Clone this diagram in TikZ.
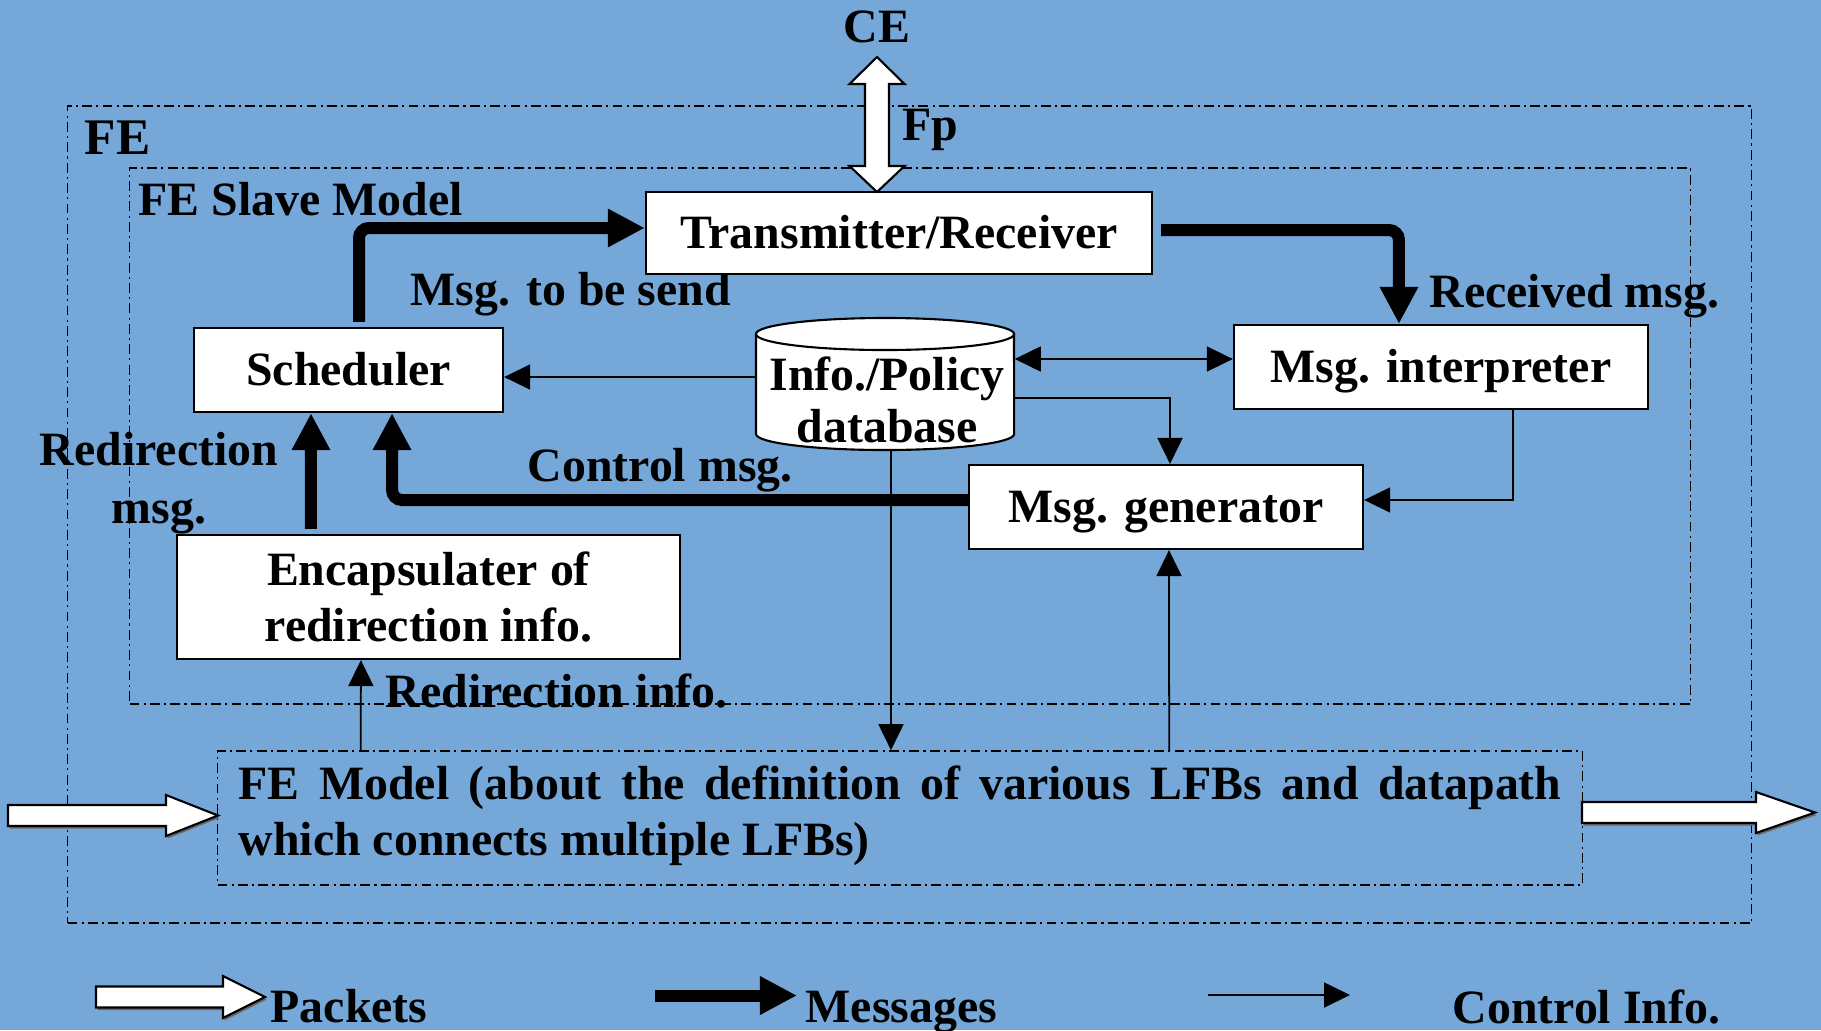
\documentclass[tikz,border=0pt]{standalone}
\usepackage{fontspec}
\setmainfont{Liberation Serif}
\usetikzlibrary{arrows.meta}
\definecolor{bgblue}{RGB}{117,168,216}
\newcommand{\hollowarr}[6]{%
  \fill[black!60, shift={(1.5,2.5)}] (#1,#4-#5) -- (#2,#4-#5) -- (#2,#4-#6) -- (#3,#4) -- (#2,#4+#6) -- (#2,#4+#5) -- (#1,#4+#5) -- cycle;
  \draw[hollow] (#1,#4-#5) -- (#2,#4-#5) -- (#2,#4-#6) -- (#3,#4) -- (#2,#4+#6) -- (#2,#4+#5) -- (#1,#4+#5) -- cycle;}
\begin{document}
\begin{tikzpicture}[x=0.01cm,y=-0.01cm,
  font=\fontsize{13.6}{16.2}\selectfont\bfseries,
  frame/.style={draw, line width=0.45pt, dash pattern=on 2.8pt off 1.2pt on 0.6pt off 1.2pt, inner sep=0pt},
  basebox/.style={draw, line width=0.6pt, fill=white, inner sep=0pt},
  box/.style={basebox, text height=11pt, text depth=2.46pt},
  lbl/.style={inner sep=0pt, anchor=base west},
  msg/.style={line width=0.12cm, rounded corners=0.1cm, -{Triangle[length=0.37cm,width=0.36cm]}},
  ctl/.style={line width=0.5pt, -{Triangle[length=0.26cm,width=0.25cm]}},
  ctlboth/.style={line width=0.5pt, {Triangle[length=0.26cm,width=0.25cm]}-{Triangle[length=0.26cm,width=0.25cm]}},
  hollow/.style={draw, line width=0.6pt, fill=white}]
\fill[bgblue] (0,0) rectangle (1821,1030);
\useasboundingbox (0,0) rectangle (1821,1030);

% frames
\node[frame, minimum width=16.83cm, minimum height=8.17cm] (fe) at (909.5,514.5) {};
\node[frame, minimum width=15.60cm, minimum height=5.36cm] (slave) at (910,436) {};
\node[frame, minimum width=13.64cm, minimum height=1.34cm] (fem) at (900,818) {};

% labels
\node[lbl] (ce) at (843,42) {CE};
\node[lbl] (fp) at (902,140) {Fp};
\node[lbl, font=\fontsize{14.6}{17}\selectfont\bfseries] (felbl) at (84,154) {FE};
\node[lbl] (slavelbl) at (138,215) {FE Slave Model};
\node[lbl] (tobesend) at (410,305) {Msg. to be send};
\node[lbl] (recv) at (1429,307) {Received msg.};
\node[lbl] (ctrlmsg) at (527,481) {Control msg.};
\node[inner sep=0pt, anchor=base] (redir1) at (159,465) {Redirection};
\node[inner sep=0pt, anchor=base] (redir2) at (159,523) {msg.};
\node[lbl] (redirinfo) at (385,707) {Redirection info.};

% boxes
\node[box, minimum width=5.06cm, minimum height=0.82cm] (tr) at (899,233) {Transmitter/Receiver};
\node[box, minimum width=3.09cm, minimum height=0.84cm] (sch) at (348.5,370) {Scheduler};
\node[box, minimum width=4.14cm, minimum height=0.84cm] (mi) at (1441,367) {Msg. interpreter};
\node[box, minimum width=3.94cm, minimum height=0.84cm] (mg) at (1166,507) {Msg. generator};
\node[basebox, minimum width=5.03cm, minimum height=1.24cm, align=center] (enc) at (428.5,597) {Encapsulater of\\redirection info.};

% database cylinder
\node[inner sep=0pt, minimum width=2.58cm, minimum height=1.32cm] (db) at (885,384) {};
\fill[white] (756,334) rectangle (1014,434);
\fill[white] (885,434) ellipse [x radius=1.29cm, y radius=0.16cm];
\draw[line width=0.6pt] (756,334) -- (756,434) arc[start angle=180, end angle=360, x radius=1.29cm, y radius=0.16cm] -- (1014,334);
\draw[line width=0.6pt, fill=white] (885,334) ellipse [x radius=1.29cm, y radius=0.16cm];
\node[inner sep=0pt, anchor=base] (dbt1) at (887,390) {Info./Policy};
\node[inner sep=0pt, anchor=base] (dbt2) at (887,442) {database};

% FE model text
\node[lbl] (fmt1) at (238,799) {\makebox[13.22cm][s]{FE Model (about the definition of various LFBs and datapath}};
\node[lbl] (fmt2) at (238,855) {which connects multiple LFBs)};

% message (thick) connectors
\draw[msg] ([xshift=0.105cm,yshift=0.05cm]sch.north) |- ([yshift=0.05cm]tr.west);
\draw[msg] ([xshift=0.08cm,yshift=0.03cm]tr.east) -| ([xshift=-0.42cm]mi.north);
\draw[msg] ([yshift=0.07cm]mg.west) -| ([xshift=0.435cm]sch.south);
\draw[msg] ([xshift=-1.175cm,yshift=0.05cm]enc.north) -- ([xshift=-0.375cm]sch.south);

% control connectors
\draw[ctl] ([yshift=0.07cm]db.west) -- ([yshift=-0.07cm]sch.east);
\draw[ctlboth] ([yshift=0.25cm]db.east) -- ([yshift=0.08cm]mi.west);
\draw[ctl] ([yshift=-0.14cm]db.east) -| ([xshift=0.04cm]mg.north);
\draw[ctl] ([xshift=0.72cm]mi.south) |- ([yshift=0.07cm]mg.east);
\draw[ctl] ([xshift=0.06cm]db.south) -- ([xshift=-0.09cm]fem.north);
\draw[ctl] ([xshift=2.69cm]fem.north) -- ([xshift=0.03cm]mg.south);
\draw[ctl] ([xshift=-5.39cm]fem.north) -- ([xshift=-0.675cm]enc.south);

% Fp double hollow arrow
\draw[hollow] (877,57) -- (904.5,84) -- (889,84) -- (889,166) -- (904.5,166) -- (877,192) -- (849.5,166) -- (865,166) -- (865,84) -- (849.5,84) -- cycle;

% packet arrows
\hollowarr{8}{166}{218}{815.5}{10.5}{20.5}
\hollowarr{1582}{1756}{1815}{812.5}{10.5}{20.5}

% legend
\hollowarr{96}{223}{265}{997}{10.5}{21}
\node[lbl] (lpk) at (270,1022) {Packets};
\coordinate (lm1) at (655,995.5);
\coordinate (lm2) at (797,995.5);
\draw[msg] (lm1) -- (lm2);
\node[lbl] (lms) at (805,1022) {Messages};
\coordinate (lc1) at (1208,995);
\coordinate (lc2) at (1350,995);
\draw[ctl] (lc1) -- (lc2);
\node[lbl] (lci) at (1452,1023) {Control Info.};
\end{tikzpicture}
\end{document}
